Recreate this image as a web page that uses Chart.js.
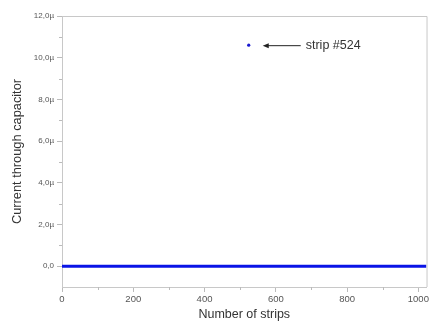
<!DOCTYPE html>
<html><head><meta charset="utf-8">
<script src="https://cdn.jsdelivr.net/npm/chart.js@4/dist/chart.umd.min.js"></script>
<style>html,body{margin:0;padding:0;background:#fff}#w{width:431px;height:322px}</style>
</head><body><div id="w"><canvas id="c"></canvas></div>
<script>
// Data (current in µA-units, shown with "µ" suffix)
const baselineStrips = [0, 1023];
const baselineCurrent = [0, 0];
const outlierStrips = [524];
const outlierCurrent = [10.6];
const yTickValues = [0, 2, 4, 6, 8, 10, 12];
const xTickValues = [0, 200, 400, 600, 800, 1000];
const annotationText = "strip #524";

const fmtY = v => v === 0 ? "0,0" : v.toFixed(1).replace(".", ",") + "µ";
const FAM = '"Liberation Sans", Arial, sans-serif';

const extras = {
  id: 'extras',
  afterDraw(chart) {
    const {ctx, chartArea: a, scales: {x, y}} = chart;
    ctx.save();
    // frame
    ctx.strokeStyle = '#c8c8c8'; ctx.lineWidth = 1;
    ctx.beginPath();
    ctx.moveTo(a.left, a.top + 0.5); ctx.lineTo(a.right + 0.5, a.top + 0.5);
    ctx.lineTo(a.right + 0.5, a.bottom);
    ctx.stroke();
    // minor ticks
    ctx.strokeStyle = '#bbb';
    ctx.beginPath();
    for (let v = 1; v < 12; v += 2) {
      const py = Math.round(y.getPixelForValue(v)) + 0.5;
      ctx.moveTo(a.left - 3, py); ctx.lineTo(a.left, py);
    }
    for (let v = 100; v < 1024; v += 200) {
      const px = Math.round(x.getPixelForValue(v)) + 0.5;
      ctx.moveTo(px, a.bottom); ctx.lineTo(px, a.bottom + 3);
    }
    ctx.stroke();
    // annotation arrow + text
    const px = x.getPixelForValue(outlierStrips[0]);
    const py = y.getPixelForValue(outlierCurrent[0]);
    const x0 = px + 14, x1 = px + 52;
    ctx.strokeStyle = '#222'; ctx.fillStyle = '#222'; ctx.lineWidth = 1;
    ctx.beginPath(); ctx.moveTo(x0 + 4, py + 0.5); ctx.lineTo(x1, py + 0.5); ctx.stroke();
    ctx.beginPath(); ctx.moveTo(x0, py + 0.5); ctx.lineTo(x0 + 6, py - 2); ctx.lineTo(x0 + 6, py + 3); ctx.closePath(); ctx.fill();
    ctx.font = '12.5px ' + FAM;
    ctx.fillStyle = '#333'; ctx.textBaseline = 'middle'; ctx.textAlign = 'left';
    ctx.fillText(annotationText, x1 + 5, py);
    ctx.restore();
  }
};

new Chart(document.getElementById('c'), {
  type: 'scatter',
  data: {
    datasets: [
      {
        type: 'line',
        data: baselineStrips.map((s, i) => ({x: s, y: baselineCurrent[i]})),
        borderColor: '#0a14e6', borderWidth: 3, pointRadius: 0, fill: false
      },
      {
        data: outlierStrips.map((s, i) => ({x: s, y: outlierCurrent[i]})),
        backgroundColor: '#1a1ad0', borderColor: '#1a1ad0', pointRadius: 1.6, borderWidth: 0
      }
    ]
  },
  plugins: [extras],
  options: {
    responsive: true, maintainAspectRatio: false, animation: false,
    layout: {padding: {top: 16, right: 4, left: 0, bottom: 0}},
    plugins: {legend: {display: false}, tooltip: {enabled: false}},
    scales: {
      x: {
        type: 'linear', min: 0, max: 1023,
        afterBuildTicks: s => { s.ticks = xTickValues.map(v => ({value: v})); },
        afterFit: s => { s.height = 35; },
        ticks: {font: {size: 9.5, family: FAM}, color: '#555', padding: 2, maxRotation: 0, callback: v => String(v)},
        grid: {drawOnChartArea: false, tickLength: 5, color: '#bbb'},
        border: {color: '#c8c8c8'},
        title: {display: true, text: 'Number of strips', font: {size: 12.5, family: FAM}, color: '#333', padding: {top: 1, bottom: 0}}
      },
      y: {
        type: 'linear', min: -1, max: 12,
        afterBuildTicks: s => { s.ticks = yTickValues.map(v => ({value: v})); },
        afterFit: s => { s.width = 62; },
        ticks: {font: {size: 8, family: FAM}, color: '#555', padding: 3, callback: v => fmtY(v)},
        grid: {drawOnChartArea: false, tickLength: 5, color: '#bbb'},
        border: {color: '#c8c8c8'},
        title: {display: true, text: 'Current through capacitor', font: {size: 12.8, family: FAM}, color: '#333', padding: {top: 10, bottom: 2}}
      }
    }
  }
});
</script></body></html>
